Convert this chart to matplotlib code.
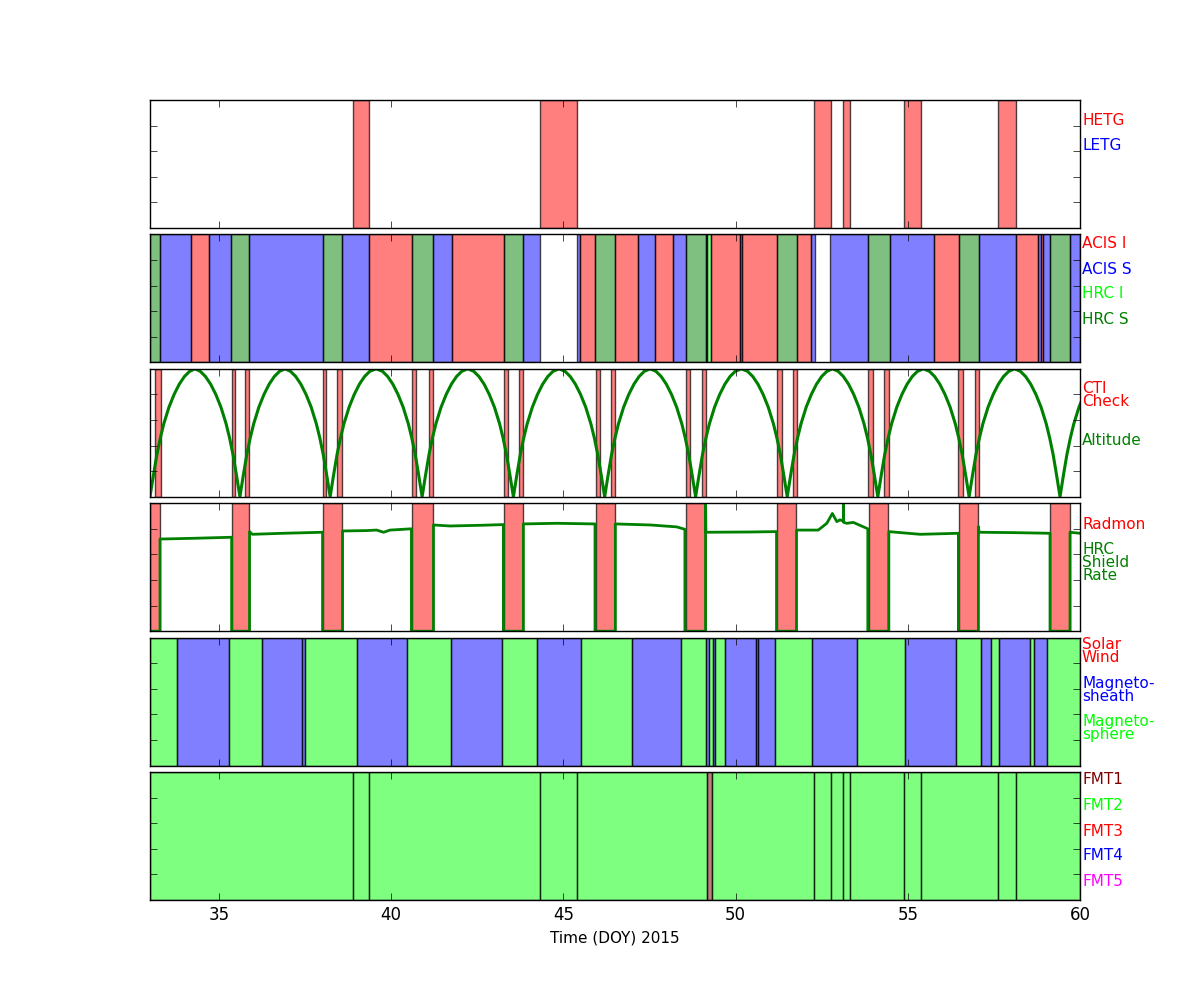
import numpy as np
import matplotlib
matplotlib.use('Agg')
import matplotlib.pyplot as plt
from matplotlib.colors import to_rgba

plt.style.use('classic')
plt.rcParams['font.family'] = ['DejaVu Sans']

XMIN, XMAX = 33, 60
x_label = 'Time (DOY) 2015'
x_ticks = [35, 40, 45, 50, 55, 60]

# ---- Panel 1: gratings ----
hetg_start = [38.89, 44.32, 52.28, 53.12, 54.89, 57.62]
hetg_stop = [39.36, 45.39, 52.77, 53.32, 55.38, 58.14]

# ---- Panel 2: instruments ----
inst_bounds = [33.00, 33.30, 34.20, 34.72, 35.36, 35.88, 38.03, 38.58, 39.36, 40.61,
               41.23, 41.77, 43.28, 43.84, 44.33, 45.40, 45.49, 45.93, 46.51, 47.18,
               47.65, 48.19, 48.55, 49.13, 49.18, 49.30, 50.13, 50.18, 51.21, 51.78,
               52.20, 52.30, 52.75, 53.85, 54.47, 55.75, 56.48, 57.06, 58.15, 58.78,
               58.86, 58.92, 59.13, 59.71, 60.00]
inst_names = ['HRC S', 'ACIS S', 'ACIS I', 'ACIS S', 'HRC S', 'ACIS S', 'HRC S', 'ACIS S', 'ACIS I', 'HRC S',
              'ACIS S', 'ACIS I', 'HRC S', 'ACIS S', '', 'ACIS S', 'ACIS I', 'HRC S', 'ACIS I', 'ACIS S',
              'ACIS I', 'ACIS S', 'HRC S', 'ACIS S', 'HRC I', 'ACIS I', 'ACIS S', 'ACIS I', 'HRC S', 'ACIS I',
              'ACIS S', '', 'ACIS S', 'HRC S', 'ACIS S', 'ACIS I', 'HRC S', 'ACIS S', 'ACIS I', 'ACIS S',
              'ACIS I', 'ACIS S', 'HRC S', 'ACIS S']

# ---- Panel 3: CTI checks and altitude ----
cti_start = [33.14, 35.39, 35.76, 38.02, 38.44, 40.61, 41.11, 43.28, 43.71, 45.94,
             46.37, 48.56, 49.02, 51.20, 51.66, 53.85, 54.31, 56.47, 56.95]
cti_stop = [33.31, 35.46, 35.88, 38.10, 38.58, 40.71, 41.22, 43.40, 43.83, 46.06,
            46.51, 48.67, 49.13, 51.34, 51.77, 53.98, 54.46, 56.59, 57.06]
perigee_times = [33.00, 35.61, 38.23, 40.90, 43.55, 46.20, 48.84, 51.50, 54.13, 56.78, 59.42]
# altitude (fraction of apogee) read at offsets (days) from a perigee
alt_offset = [0.0, 0.1, 0.2, 0.3, 0.4, 0.55, 0.7, 0.85, 1.0, 1.15]
alt_frac = [0.0, 0.17, 0.33, 0.46, 0.57, 0.70, 0.80, 0.88, 0.94, 0.98]

# ---- Panel 4: radmon and HRC shield rate ----
radmon_start = [33.00, 35.39, 38.03, 40.61, 43.28, 45.94, 48.55, 51.21, 53.86, 56.49, 59.14]
radmon_stop = [33.30, 35.88, 38.58, 41.22, 43.83, 46.51, 49.12, 51.76, 54.44, 57.05, 59.71]
shield_t = [33.00, 33.29, 33.29, 34.30, 35.37, 35.37,
            35.89, 35.89, 35.97, 36.87, 38.01, 38.01,
            38.59, 38.59, 39.29, 39.58, 39.78, 39.97, 40.59, 40.59,
            41.23, 41.23, 41.71, 42.68, 43.26, 43.26,
            43.84, 43.84, 44.81, 45.92, 45.92,
            46.51, 46.51, 47.52, 48.29, 48.53, 48.53,
            49.13, 49.13, 49.14, 50.40, 51.19, 51.19,
            51.77, 51.77, 52.40, 52.65, 52.81, 52.94, 53.03, 53.13, 53.13, 53.14, 53.23, 53.42, 53.84, 53.84,
            54.45, 54.45, 55.36, 56.47, 56.47,
            57.05, 57.05, 57.07, 58.10, 59.13, 59.13,
            59.71, 59.71, 60.00]
shield_v = [0.0, 0.0, 0.720, 0.726, 0.734, 0.0,
            0.0, 0.778, 0.757, 0.765, 0.773, 0.0,
            0.0, 0.783, 0.786, 0.790, 0.773, 0.790, 0.800, 0.0,
            0.0, 0.830, 0.822, 0.828, 0.833, 0.0,
            0.0, 0.838, 0.843, 0.838, 0.0,
            0.0, 0.838, 0.830, 0.815, 0.796, 0.0,
            0.0, 1.0, 0.773, 0.775, 0.778, 0.0,
            0.0, 0.790, 0.790, 0.843, 0.920, 0.856, 0.870, 0.860, 1.0, 0.850, 0.843, 0.850, 0.800, 0.0,
            0.0, 0.778, 0.757, 0.765, 0.0,
            0.0, 0.817, 0.773, 0.770, 0.765, 0.0,
            0.0, 0.773, 0.765]

# ---- Panel 5: regions ----
reg_bounds = [33.00, 33.78, 35.29, 36.26, 37.41, 37.50, 39.01, 40.46, 41.75, 43.23,
              44.24, 45.52, 46.98, 48.43, 49.15, 49.23, 49.35, 49.41, 49.70, 50.60,
              50.65, 51.15, 52.23, 53.53, 54.91, 56.41, 57.13, 57.43, 57.65, 58.56,
              58.67, 59.05, 60.00]
reg_names = ['sphere', 'sheath', 'sphere', 'sheath', 'sheath', 'sphere', 'sheath', 'sphere', 'sheath', 'sphere',
             'sheath', 'sphere', 'sheath', 'sphere', 'sheath', 'sphere', 'sheath', 'sphere', 'sheath', 'sheath',
             'sheath', 'sphere', 'sheath', 'sphere', 'sheath', 'sphere', 'sheath', 'sphere', 'sheath', 'sphere',
             'sheath', 'sphere']

# ---- Panel 6: telemetry formats ----
fmt_bounds = [33.00, 38.89, 39.36, 44.32, 45.39, 49.18, 49.31, 52.28, 52.77, 53.12,
              53.32, 54.89, 55.38, 57.62, 58.14, 60.00]
fmt_names = ['FMT2', 'FMT2', 'FMT2', 'FMT2', 'FMT2', 'FMT1', 'FMT2', 'FMT2', 'FMT2', 'FMT2',
             'FMT2', 'FMT2', 'FMT2', 'FMT2', 'FMT2']

inst_colors = {'ACIS I': 'red', 'ACIS S': 'blue', 'HRC I': 'lime', 'HRC S': 'green'}
reg_colors = {'wind': 'red', 'sheath': 'blue', 'sphere': 'lime'}
fmt_colors = {'FMT1': 'maroon', 'FMT2': 'lime', 'FMT3': 'red', 'FMT4': 'blue', 'FMT5': 'magenta'}

fig = plt.figure(figsize=(12, 10), dpi=100, facecolor='white')
gs = fig.add_gridspec(6, 1, left=0.125, right=0.9, top=0.9, bottom=0.1, hspace=0.05)
axes = [fig.add_subplot(gs[i]) for i in range(6)]


def span(ax, a, b, color):
    ax.axvspan(a, b, facecolor=to_rgba(color, 0.5), edgecolor=(0, 0, 0, 0.7), lw=1.0)


def label(ax, yfrac, text, color):
    ax.text(1.0 + 2 / 930, yfrac, text, color=color, transform=ax.transAxes,
            ha='left', va='center', fontsize=11, linespacing=0.85)


for ax in axes:
    ax.set_facecolor('white')
    ax.set_xlim(XMIN, XMAX)
    ax.set_ylim(0, 1)
    ax.set_yticks([0, 0.2, 0.4, 0.6, 0.8, 1.0])
    ax.set_yticklabels([])
    ax.set_xticks(x_ticks)
    ax.tick_params(direction='in', top=True, right=True, length=5)

# Panel 1
ax = axes[0]
for a, b in zip(hetg_start, hetg_stop):
    span(ax, a, b, 'red')
label(ax, 0.836, 'HETG', 'red')
label(ax, 0.641, 'LETG', 'blue')

# Panel 2
ax = axes[1]
for a, b, n in zip(inst_bounds[:-1], inst_bounds[1:], inst_names):
    if n:
        span(ax, a, b, inst_colors[n])
label(ax, 0.93, 'ACIS I', 'red')
label(ax, 0.729, 'ACIS S', 'blue')
label(ax, 0.535, 'HRC I', 'lime')
label(ax, 0.333, 'HRC S', 'green')

# Panel 3
ax = axes[2]
for a, b in zip(cti_start, cti_stop):
    span(ax, a, b, 'red')
alt_t, alt_v = [], []
for i, p in enumerate(perigee_times):
    nxt = perigee_times[i + 1] if i + 1 < len(perigee_times) else None
    if nxt is None:
        for o, f in zip(alt_offset, alt_frac):
            alt_t.append(p + o)
            alt_v.append(f)
        break
    for o, f in zip(alt_offset, alt_frac):
        alt_t.append(p + o)
        alt_v.append(f)
    alt_t.append((p + nxt) / 2)
    alt_v.append(1.0)
    for o, f in zip(alt_offset[::-1], alt_frac[::-1]):
        if o == 0:
            continue
        alt_t.append(nxt - o)
        alt_v.append(f)
ax.plot(alt_t, alt_v, color='green', lw=2.2)
ax.set_ylim(0, 1)
label(ax, 0.793, 'CTI\nCheck', 'red')
label(ax, 0.4375, 'Altitude', 'green')

# Panel 4
ax = axes[3]
for a, b in zip(radmon_start, radmon_stop):
    span(ax, a, b, 'red')
ax.plot(shield_t, shield_v, color='green', lw=2.0)
ax.set_ylim(0, 1)
label(ax, 0.836, 'Radmon', 'red')
label(ax, 0.539, 'HRC\nShield\nRate', 'green')

# Panel 5
ax = axes[4]
for a, b, n in zip(reg_bounds[:-1], reg_bounds[1:], reg_names):
    span(ax, a, b, reg_colors[n])
label(ax, 0.895, 'Solar\nWind', 'red')
label(ax, 0.59, 'Magneto-\nsheath', 'blue')
label(ax, 0.293, 'Magneto-\nsphere', 'lime')

# Panel 6
ax = axes[5]
for a, b, n in zip(fmt_bounds[:-1], fmt_bounds[1:], fmt_names):
    span(ax, a, b, fmt_colors[n])
label(ax, 0.9375, 'FMT1', 'maroon')
label(ax, 0.742, 'FMT2', 'lime')
label(ax, 0.539, 'FMT3', 'red')
label(ax, 0.344, 'FMT4', 'blue')
label(ax, 0.141, 'FMT5', 'magenta')

for ax in axes[:-1]:
    ax.set_xticklabels([])
axes[-1].set_xticklabels([str(t) for t in x_ticks])
axes[-1].set_xlabel(x_label, fontsize=11)

fig.savefig('out.png', dpi=100, facecolor='white')
